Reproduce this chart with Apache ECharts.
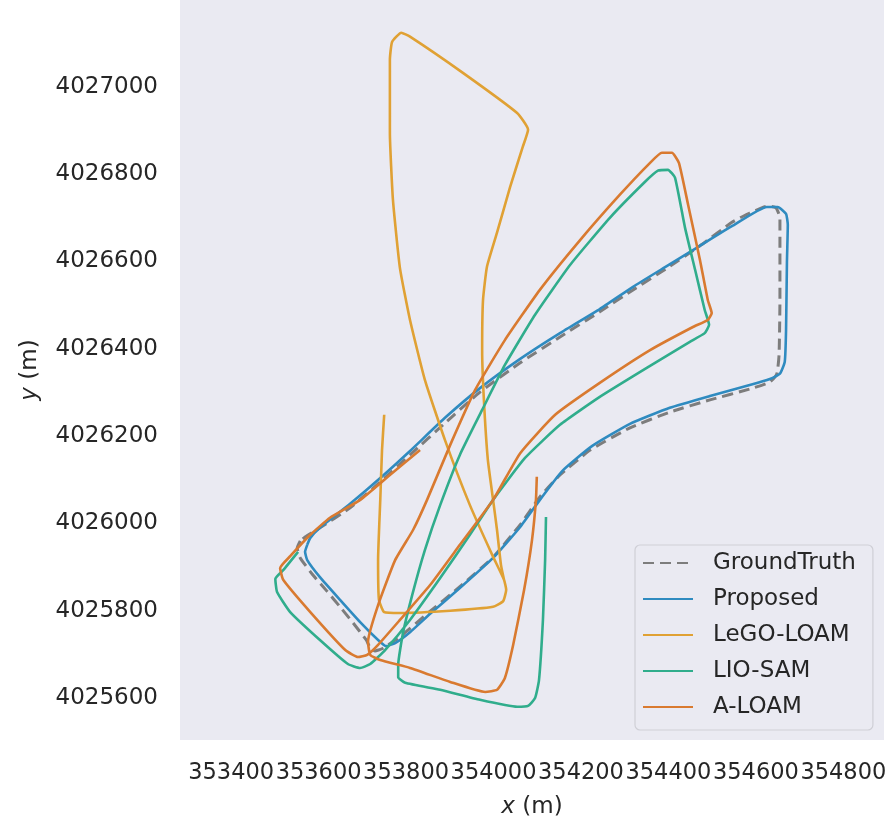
<!DOCTYPE html>
<html>
<head>
<meta charset="utf-8">
<script src="https://cdn.jsdelivr.net/npm/echarts@6/dist/echarts.min.js"></script>
<style>
  html, body { margin: 0; padding: 0; background: #ffffff; }
  #chart { width: 895px; height: 827px; }
</style>
</head>
<body>
<div id="chart"></div>
<script>
// Trajectories in UTM metres: [easting, northing]
const groundTruth = [
  [353558, 4025960], [353551, 4025944], [353558, 4025921], [353587, 4025882], [353619, 4025845],
  [353649, 4025809], [353679, 4025772], [353709, 4025733], [353718, 4025715], [353729, 4025708],
  [353745, 4025713], [353786, 4025740], [353848, 4025793], [353923, 4025855], [353999, 4025923],
  [354061, 4025997], [354106, 4026061], [354152, 4026111], [354221, 4026168], [354312, 4026219],
  [354403, 4026255], [354495, 4026283], [354586, 4026308], [354632, 4026324], [354648, 4026343],
  [354653, 4026386], [354655, 4026512], [354655, 4026627], [354655, 4026700], [354646, 4026723],
  [354627, 4026727], [354586, 4026711], [354547, 4026691], [354472, 4026636], [354397, 4026585],
  [354319, 4026535], [354243, 4026485], [354152, 4026427], [354061, 4026368], [353969, 4026301],
  [353889, 4026230], [353809, 4026157], [353741, 4026095], [353672, 4026036], [353603, 4025990],
  [353569, 4025969], [353558, 4025960]
];

const proposed = [
  [353574, 4025951], [353569, 4025935], [353574, 4025916], [353603, 4025877], [353649, 4025825],
  [353695, 4025774], [353736, 4025733], [353754, 4025719], [353775, 4025726], [353809, 4025751],
  [353855, 4025793], [353923, 4025852], [353999, 4025921], [354061, 4025992], [354106, 4026054],
  [354157, 4026120], [354225, 4026177], [354312, 4026228], [354403, 4026265], [354495, 4026292],
  [354586, 4026317], [354632, 4026331], [354655, 4026343], [354666, 4026370], [354669, 4026443],
  [354671, 4026597], [354673, 4026684], [354669, 4026709], [354650, 4026725], [354625, 4026725],
  [354547, 4026682], [354472, 4026636], [354397, 4026590], [354319, 4026542], [354243, 4026491],
  [354152, 4026436], [354061, 4026377], [353969, 4026310], [353889, 4026242], [353809, 4026166],
  [353741, 4026104], [353672, 4026045], [353603, 4025990], [353581, 4025967], [353574, 4025951]
];

const legoLoam = [
  [353750, 4026249], [353745, 4026168], [353741, 4026054], [353736, 4025916], [353738, 4025825],
  [353750, 4025797], [353786, 4025795], [353901, 4025800], [353999, 4025809], [354022, 4025822],
  [354029, 4025848], [354024, 4025871], [353997, 4025928], [353946, 4026042], [353889, 4026191],
  [353843, 4026329], [353809, 4026466], [353786, 4026585], [353770, 4026741], [353763, 4026895],
  [353763, 4027062], [353768, 4027103], [353789, 4027124], [353809, 4027115], [353930, 4027032],
  [354054, 4026940], [354079, 4026902], [354067, 4026863], [354038, 4026771], [354008, 4026666],
  [353985, 4026588], [353976, 4026512], [353974, 4026397], [353978, 4026283], [353987, 4026146],
  [353999, 4026054], [354008, 4025985], [354017, 4025905], [354024, 4025871]
];

const lioSam = [
  [354120, 4026015], [354118, 4025916], [354113, 4025779], [354104, 4025641], [354095, 4025600],
  [354079, 4025582], [354054, 4025580], [353969, 4025596], [353878, 4025619], [353798, 4025635],
  [353782, 4025648], [353782, 4025676], [353793, 4025749], [353814, 4025836], [353843, 4025939],
  [353878, 4026042], [353923, 4026157], [353974, 4026260], [354026, 4026363], [354095, 4026478],
  [354175, 4026592], [354266, 4026700], [354346, 4026782], [354376, 4026808], [354399, 4026810],
  [354415, 4026792], [354438, 4026677], [354461, 4026581], [354483, 4026489], [354493, 4026455],
  [354483, 4026436], [354449, 4026416], [354358, 4026361], [354243, 4026290], [354152, 4026226],
  [354072, 4026150], [353999, 4026054], [353946, 4025974], [353878, 4025875], [353809, 4025779],
  [353752, 4025710], [353718, 4025678], [353695, 4025669], [353667, 4025678], [353603, 4025733],
  [353535, 4025797], [353505, 4025843], [353501, 4025873], [353519, 4025893], [353553, 4025935]
];

const aLoam = [
  [354099, 4026107], [354097, 4026054], [354088, 4025962], [354070, 4025848], [354045, 4025722],
  [354026, 4025646], [354008, 4025619], [353981, 4025614], [353901, 4025637], [353809, 4025669],
  [353741, 4025687], [353718, 4025699], [353713, 4025729], [353736, 4025813], [353775, 4025916],
  [353816, 4025985], [353848, 4026054], [353901, 4026180], [353958, 4026306], [354026, 4026420],
  [354106, 4026535], [354198, 4026649], [354289, 4026753], [354358, 4026826], [354385, 4026849],
  [354408, 4026849], [354424, 4026826], [354445, 4026730], [354472, 4026604], [354490, 4026512],
  [354499, 4026482], [354490, 4026466], [354456, 4026450], [354358, 4026397], [354243, 4026322],
  [354141, 4026249], [354061, 4026161], [353999, 4026054], [353923, 4025951], [353855, 4025859],
  [353786, 4025779], [353736, 4025722], [353711, 4025699], [353690, 4025694], [353661, 4025710],
  [353581, 4025797], [353519, 4025871], [353512, 4025898], [353535, 4025925], [353581, 4025974],
  [353626, 4026013], [353695, 4026054], [353763, 4026111], [353832, 4026168]
];

// Tick labels
const xTicks = [353400, 353600, 353800, 354000, 354200, 354400, 354600, 354800];
const yTicks = [4025600, 4025800, 4026000, 4026200, 4026400, 4026600, 4026800, 4027000];

const seriesNames = ['GroundTruth', 'Proposed', 'LeGO-LOAM', 'LIO-SAM', 'A-LOAM'];
const seriesData = [groundTruth, proposed, legoLoam, lioSam, aLoam];
const seriesColors = ['#7d7d7d', '#2f8bc0', '#e0a134', '#30ad8c', '#d97a30'];

const FONT = 'DejaVu Sans';
const TEXT = '#262626';

const chart = echarts.init(document.getElementById('chart'), null, { renderer: 'canvas' });

const series = seriesData.map((d, i) => ({
  name: seriesNames[i],
  type: 'line',
  data: d,
  showSymbol: false,
  symbol: 'none',
  smooth: 0.15,
  animation: false,
  lineStyle: {
    color: seriesColors[i],
    width: i === 0 ? 3 : 2.6,
    type: i === 0 ? [11, 6] : 'solid',
    cap: 'butt',
    join: 'round'
  },
  itemStyle: { color: seriesColors[i] },
  z: 2 + i
}));

chart.setOption({
  backgroundColor: '#ffffff',
  animation: false,
  textStyle: { fontFamily: FONT },
  grid: {
    left: 180, right: 11, top: 0, bottom: 87,
    show: true, backgroundColor: '#eaeaf2', borderWidth: 0
  },
  legend: {
    data: seriesNames,
    left: 635, top: 545,
    orient: 'vertical',
    itemWidth: 50, itemHeight: 12, itemGap: 10,
    padding: [5, 17, 10, 7],
    backgroundColor: 'rgba(234,234,242,0.85)',
    borderColor: '#cfcfd6', borderWidth: 1.2, borderRadius: 5,
    itemStyle: { opacity: 0 },
    textStyle: { fontFamily: FONT, fontSize: 23, color: TEXT, lineHeight: 26, padding: [0, 0, 0, 15] }
  },
  xAxis: {
    type: 'value',
    min: 353283, max: 354893,
    axisLine: { show: false }, axisTick: { show: false }, splitLine: { show: false },
    axisLabel: {
      customValues: xTicks,
      interval: 0, hideOverlap: false,
      showMinLabel: true, showMaxLabel: true,
      fontFamily: FONT, fontSize: 22.5, color: TEXT, margin: 22,
      formatter: v => String(v)
    },
    name: '{i|x} (m)',
    nameLocation: 'middle', nameGap: 56,
    nameTextStyle: {
      fontFamily: FONT, fontSize: 23, color: TEXT,
      rich: { i: { fontFamily: FONT, fontSize: 23, fontStyle: 'italic', color: TEXT } }
    }
  },
  yAxis: {
    type: 'value',
    min: 4025504, max: 4027199,
    axisLine: { show: false }, axisTick: { show: false }, splitLine: { show: false },
    axisLabel: {
      customValues: yTicks,
      interval: 0, hideOverlap: false,
      showMinLabel: true, showMaxLabel: true,
      fontFamily: FONT, fontSize: 23, color: TEXT, margin: 22,
      formatter: v => String(v)
    },
    name: '{i|y} (m)',
    nameLocation: 'middle', nameGap: 138, nameRotate: 90,
    nameTextStyle: {
      fontFamily: FONT, fontSize: 23, color: TEXT,
      rich: { i: { fontFamily: FONT, fontSize: 23, fontStyle: 'italic', color: TEXT } }
    }
  },
  series: series
});
</script>
</body>
</html>
